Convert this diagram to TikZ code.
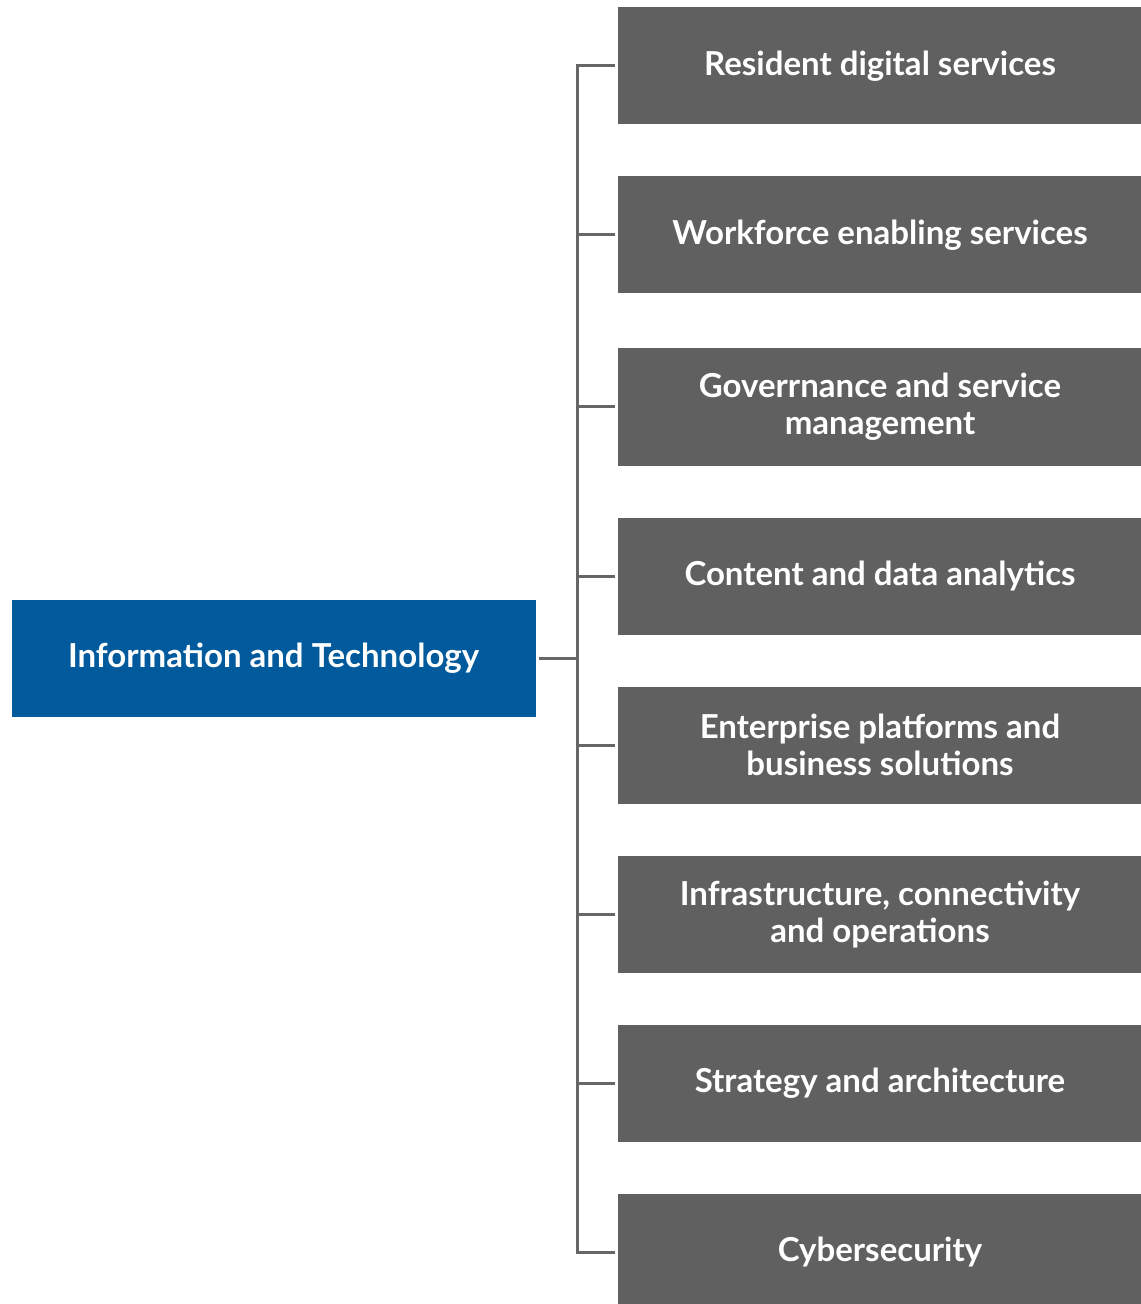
\documentclass[tikz,border=0pt]{standalone}
\usepackage{fontspec}
\setmainfont{Lato}
\usepackage{tikz}
\usetikzlibrary{positioning}

\definecolor{itblue}{HTML}{005A9C}
\definecolor{boxgray}{HTML}{606060}
\definecolor{linegray}{HTML}{666666}

\begin{document}
\begin{tikzpicture}[x=0.5pt,y=-0.5pt,node distance=84.5pt,
                    unit/.style={fill=boxgray,text=white,minimum width=262pt,
                      minimum height=58.5pt,align=center,inner sep=0pt,
                      font=\bfseries\fontsize{16.5}{18.5}\selectfont},
                    head/.style={unit,fill=itblue},
                    link/.style={draw=linegray,line width=1.5pt}]

  \useasboundingbox (0,0) rectangle (1140,1304);

  \node[head] (IT) at (273.5,658) {Information and Technology};

  \node[unit] (R1) at (880,66)  {Resident digital services};
  \node[unit] (R2) [below of=R1] {Workforce enabling services};
  \node[unit] (R3) [below of=R2, yshift=-1.5pt] {Goverrnance and service\\management};
  \node[unit] (R4) [below of=R3] {Content and data analytics};
  \node[unit] (R5) [below of=R4] {Enterprise platforms and\\business solutions};
  \node[unit] (R6) [below of=R5] {Infrastructure, connectivity\\and operations};
  \node[unit] (R7) [below of=R6] {Strategy and architecture};
  \node[unit] (R8) [below of=R7] {Cybersecurity};

  \coordinate (spine) at (577,658);

  \draw[link,shorten <=1.5pt,shorten >=1.5pt] (R1.west) -| (spine) |- (R8.west);
  \draw[link,shorten <=1.5pt] (IT.east) -- (spine);
  \path[link,shorten <=1.5pt] (R2.west) edge (R2.west -| spine);
  \path[link,shorten <=1.5pt] (R3.west) edge (R3.west -| spine);
  \path[link,shorten <=1.5pt] (R4.west) edge (R4.west -| spine);
  \path[link,shorten <=1.5pt] (R5.west) edge (R5.west -| spine);
  \path[link,shorten <=1.5pt] (R6.west) edge (R6.west -| spine);
  \path[link,shorten <=1.5pt] (R7.west) edge (R7.west -| spine);

\end{tikzpicture}
\end{document}
